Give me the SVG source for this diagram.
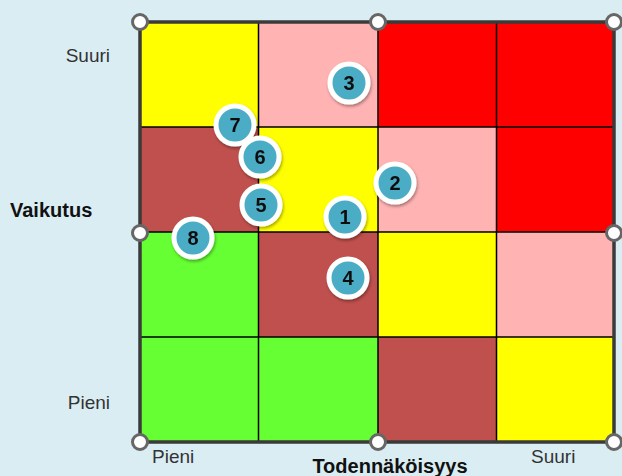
<svg xmlns="http://www.w3.org/2000/svg" width="622" height="476" viewBox="0 0 622 476">
<defs>
<style>
.lbl{font-family:"Liberation Sans",Arial,sans-serif;font-size:19px;fill:#333}
.ttl{font-family:"Liberation Sans",Arial,sans-serif;font-size:20px;font-weight:bold;fill:#111}
.num{font-family:"Liberation Sans",Arial,sans-serif;font-size:20px;font-weight:bold;fill:#111;text-anchor:middle}
.mk{fill:#4BACC6;stroke:#fff;stroke-width:5}
.hd{fill:#fff;stroke:#666;stroke-width:3}
.in{stroke:#000;stroke-width:1.5;fill:none}
.y{fill:#FFFF00}.p{fill:#FFB3B3}.r{fill:#FF0000}.b{fill:#C0504D}.g{fill:#66FF33}
</style>
<filter id="sh" x="-30%" y="-30%" width="160%" height="160%">
<feDropShadow dx="1" dy="2" stdDeviation="1.5" flood-color="#000" flood-opacity="0.35"/>
</filter>
</defs>
<rect width="622" height="476" fill="#DAEDF3"/>
<g id="grid">
<rect class="y" x="140" y="22" width="118.5" height="105"/>
<rect class="p" x="258.5" y="22" width="119.5" height="105"/>
<rect class="r" x="378" y="22" width="118.5" height="105"/>
<rect class="r" x="496.5" y="22" width="117.5" height="105"/>
<rect class="b" x="140" y="127" width="118.5" height="105"/>
<rect class="y" x="258.5" y="127" width="119.5" height="105"/>
<rect class="p" x="378" y="127" width="118.5" height="105"/>
<rect class="r" x="496.5" y="127" width="117.5" height="105"/>
<rect class="g" x="140" y="232" width="118.5" height="105"/>
<rect class="b" x="258.5" y="232" width="119.5" height="105"/>
<rect class="y" x="378" y="232" width="118.5" height="105"/>
<rect class="p" x="496.5" y="232" width="117.5" height="105"/>
<rect class="g" x="140" y="337" width="118.5" height="105"/>
<rect class="g" x="258.5" y="337" width="119.5" height="105"/>
<rect class="b" x="378" y="337" width="118.5" height="105"/>
<rect class="y" x="496.5" y="337" width="117.5" height="105"/>
<path class="in" d="M258.5 22V442M378 22V442M496.5 22V442M140 127H614M140 232H614M140 337H614"/>
<rect x="140" y="22" width="474" height="420" fill="none" stroke="#3a3a3a" stroke-width="3.5"/>
</g>
<g id="handles">
<circle class="hd" cx="140" cy="22" r="7.5"/>
<circle class="hd" cx="378" cy="22" r="7.5"/>
<circle class="hd" cx="614" cy="22" r="7.5"/>
<circle class="hd" cx="140" cy="233" r="7.5"/>
<circle class="hd" cx="614" cy="233" r="7.5"/>
<circle class="hd" cx="140" cy="442" r="7.5"/>
<circle class="hd" cx="378" cy="442" r="7.5"/>
<circle class="hd" cx="614" cy="442" r="7.5"/>
</g>
<g id="labels">
<text class="lbl" x="110" y="62" text-anchor="end">Suuri</text>
<text class="lbl" x="110" y="409" text-anchor="end">Pieni</text>
<text class="lbl" x="152" y="463">Pieni</text>
<text class="lbl" x="531" y="463">Suuri</text>
<text class="ttl" x="10" y="217">Vaikutus</text>
<text class="ttl" x="390" y="473" text-anchor="middle">Todennäköisyys</text>
</g>
<g id="m3" filter="url(#sh)"><circle class="mk" cx="349" cy="83" r="19"/><text class="num" x="349" y="90">3</text></g>
<g id="m7" filter="url(#sh)"><circle class="mk" cx="235" cy="125" r="19"/><text class="num" x="235" y="132">7</text></g>
<g id="m6" filter="url(#sh)"><circle class="mk" cx="260" cy="157" r="19"/><text class="num" x="260" y="164">6</text></g>
<g id="m2" filter="url(#sh)"><circle class="mk" cx="395" cy="183" r="19"/><text class="num" x="395" y="190">2</text></g>
<g id="m5" filter="url(#sh)"><circle class="mk" cx="261" cy="205" r="19"/><text class="num" x="261" y="212">5</text></g>
<g id="m1" filter="url(#sh)"><circle class="mk" cx="345" cy="217" r="19"/><text class="num" x="345" y="224">1</text></g>
<g id="m8" filter="url(#sh)"><circle class="mk" cx="193" cy="238" r="19"/><text class="num" x="193" y="245">8</text></g>
<g id="m4" filter="url(#sh)"><circle class="mk" cx="348" cy="278" r="19"/><text class="num" x="348" y="285">4</text></g>
<g id="connectors"/>
</svg>
